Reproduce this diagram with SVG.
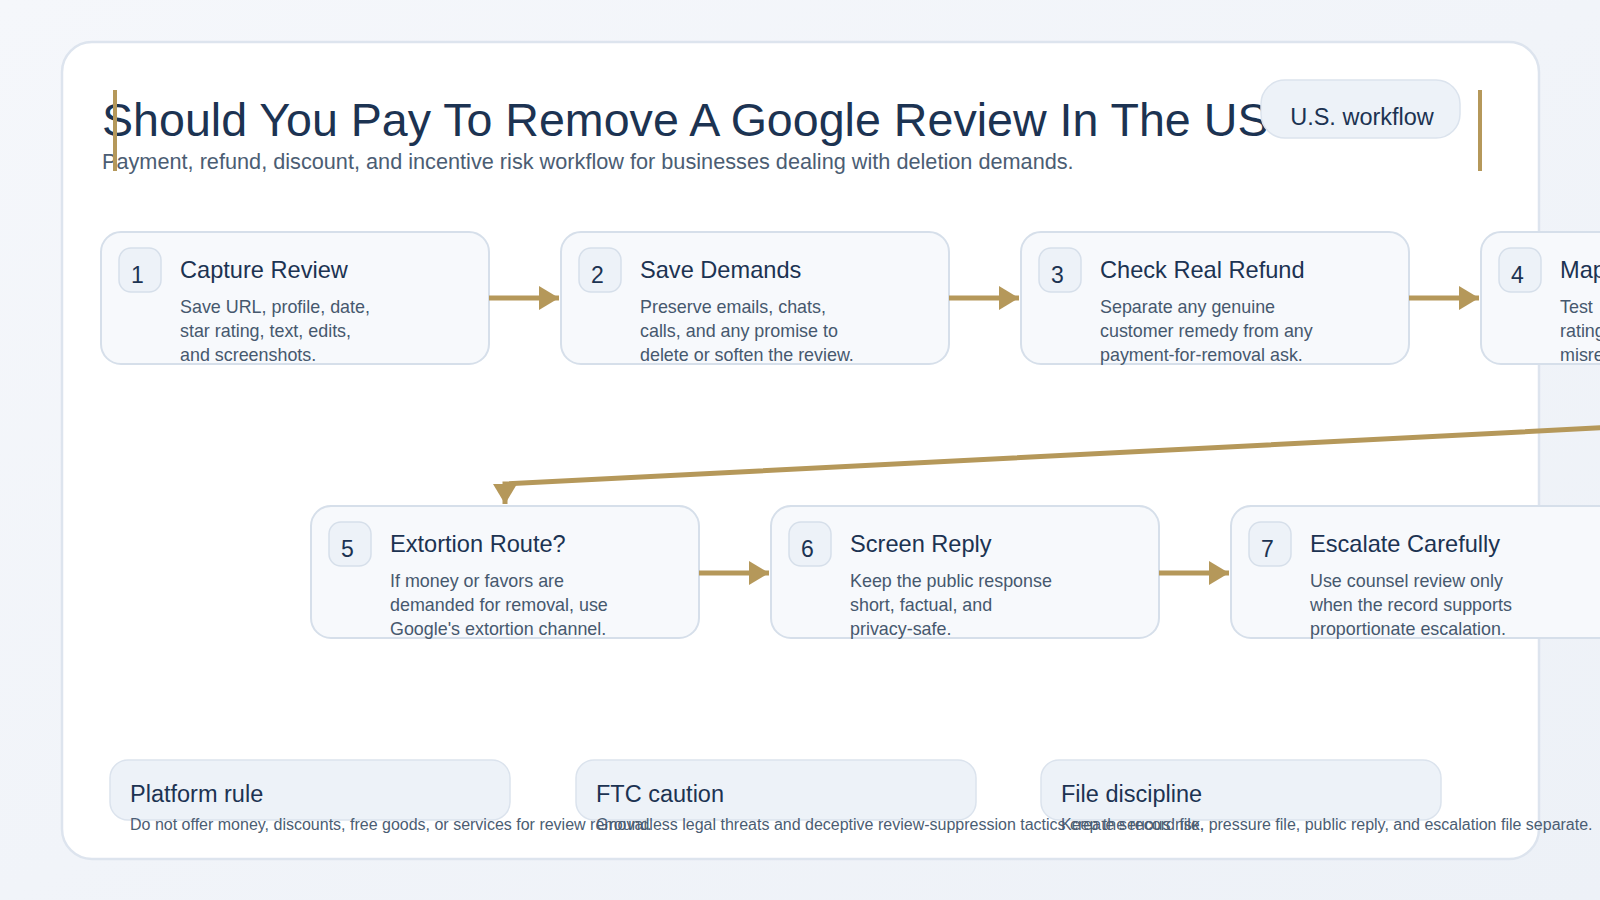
<svg xmlns="http://www.w3.org/2000/svg" width="1600" height="900" viewBox="0 0 1600 900">
<defs>
<linearGradient id="bg" x1="0" y1="0" x2="1" y2="1">
<stop offset="0" stop-color="#f5f7fb"/>
<stop offset="1" stop-color="#edf1f7"/>
</linearGradient>
<marker id="ah" markerUnits="userSpaceOnUse" markerWidth="22" markerHeight="26" refX="20" refY="12" orient="auto">
<path d="M0,0 L20,12 L0,24 z" fill="#b5985a"/>
</marker>
<style>
.ttl{font-family:"Liberation Sans",Arial,sans-serif;fill:#1c3352}
.sub{font-family:"Liberation Sans",Arial,sans-serif;fill:#4b5d73}
.node rect.box{fill:#f7f9fc;stroke:#d6dfea;stroke-width:2}
.node rect.num{fill:#edf2f8;stroke:#d6dfea;stroke-width:1.5}
.node .n{font-family:"Liberation Sans",Arial,sans-serif;font-size:23px;fill:#1c3352}
.node .h{font-family:"Liberation Sans",Arial,sans-serif;font-size:23.6px;fill:#1c3352}
.node .b{font-family:"Liberation Sans",Arial,sans-serif;font-size:17.9px;fill:#46586e}
.note rect{fill:#edf2f8;stroke:#dbe3ed;stroke-width:1.5}
.note .h{font-family:"Liberation Sans",Arial,sans-serif;font-size:23.5px;fill:#1c3352}
.note .b{font-family:"Liberation Sans",Arial,sans-serif;font-size:16px;fill:#4b5d73}
.conn{fill:none;stroke:#b5985a;stroke-width:5;marker-end:url(#ah)}
.bar{fill:#b5985a}
</style>
</defs>
<rect x="0" y="0" width="1600" height="900" fill="url(#bg)"/>
<rect x="62" y="42" width="1477" height="817" rx="30" fill="#ffffff" stroke="#dde4ee" stroke-width="2.5"/>

<g id="header">
<text class="ttl" x="102" y="136" font-size="46.6">Should You Pay To Remove A Google Review In The US</text>
<text class="sub" x="102" y="169" font-size="21.7">Payment, refund, discount, and incentive risk workflow for businesses dealing with deletion demands.</text>
<rect class="bar" x="113" y="90" width="4" height="81"/>
<rect class="bar" x="1478" y="90" width="4" height="81"/>
<rect x="1261" y="80" width="199" height="58" rx="24" fill="#edf2f8" stroke="#dbe3ed" stroke-width="1.5"/>
<text class="ttl" x="1362" y="125" font-size="23.5" text-anchor="middle" fill="#1f3350">U.S. workflow</text>
</g>

<g id="node1" class="node">
<rect class="box" x="101" y="232" width="388" height="132" rx="20"/>
<rect class="num" x="119" y="248" width="42" height="44" rx="12"/>
<text class="n" x="131" y="283">1</text>
<text class="h" x="180" y="278">Capture Review</text>
<text class="b" x="180" y="312.5">Save URL, profile, date,</text>
<text class="b" x="180" y="336.5">star rating, text, edits,</text>
<text class="b" x="180" y="360.5">and screenshots.</text>
</g>

<g id="node2" class="node">
<rect class="box" x="561" y="232" width="388" height="132" rx="20"/>
<rect class="num" x="579" y="248" width="42" height="44" rx="12"/>
<text class="n" x="591" y="283">2</text>
<text class="h" x="640" y="278">Save Demands</text>
<text class="b" x="640" y="312.5">Preserve emails, chats,</text>
<text class="b" x="640" y="336.5">calls, and any promise to</text>
<text class="b" x="640" y="360.5">delete or soften the review.</text>
</g>

<g id="node3" class="node">
<rect class="box" x="1021" y="232" width="388" height="132" rx="20"/>
<rect class="num" x="1039" y="248" width="42" height="44" rx="12"/>
<text class="n" x="1051" y="283">3</text>
<text class="h" x="1100" y="278">Check Real Refund</text>
<text class="b" x="1100" y="312.5">Separate any genuine</text>
<text class="b" x="1100" y="336.5">customer remedy from any</text>
<text class="b" x="1100" y="360.5">payment-for-removal ask.</text>
</g>

<g id="node4" class="node">
<rect class="box" x="1481" y="232" width="388" height="132" rx="20"/>
<rect class="num" x="1499" y="248" width="42" height="44" rx="12"/>
<text class="n" x="1511" y="283">4</text>
<text class="h" x="1560" y="278">Map</text>
<text class="b" x="1560" y="312.5">Test</text>
<text class="b" x="1560" y="336.5">rating</text>
<text class="b" x="1560" y="360.5">misre</text>
</g>

<g id="node5" class="node">
<rect class="box" x="311" y="506" width="388" height="132" rx="20"/>
<rect class="num" x="329" y="522" width="42" height="44" rx="12"/>
<text class="n" x="341" y="557">5</text>
<text class="h" x="390" y="552">Extortion Route?</text>
<text class="b" x="390" y="586.5">If money or favors are</text>
<text class="b" x="390" y="610.5">demanded for removal, use</text>
<text class="b" x="390" y="634.5">Google's extortion channel.</text>
</g>

<g id="node6" class="node">
<rect class="box" x="771" y="506" width="388" height="132" rx="20"/>
<rect class="num" x="789" y="522" width="42" height="44" rx="12"/>
<text class="n" x="801" y="557">6</text>
<text class="h" x="850" y="552">Screen Reply</text>
<text class="b" x="850" y="586.5">Keep the public response</text>
<text class="b" x="850" y="610.5">short, factual, and</text>
<text class="b" x="850" y="634.5">privacy-safe.</text>
</g>

<g id="node7" class="node">
<rect class="box" x="1231" y="506" width="388" height="132" rx="20"/>
<rect class="num" x="1249" y="522" width="42" height="44" rx="12"/>
<text class="n" x="1261" y="557">7</text>
<text class="h" x="1310" y="552">Escalate Carefully</text>
<text class="b" x="1310" y="586.5">Use counsel review only</text>
<text class="b" x="1310" y="610.5">when the record supports</text>
<text class="b" x="1310" y="634.5">proportionate escalation.</text>
</g>

<g id="connectors">
<path class="conn" d="M489 298 L559 298"/>
<path class="conn" d="M949 298 L1019 298"/>
<path class="conn" d="M1409 298 L1479 298"/>
<path class="conn" d="M1675 364 L1675 424 L505 484 L505 504"/>
<path class="conn" d="M699 573 L769 573"/>
<path class="conn" d="M1159 573 L1229 573"/>
</g>

<g id="note1" class="note">
<rect x="110" y="760" width="400" height="60" rx="18"/>
<text class="h" x="130" y="802">Platform rule</text>
<text class="b" x="130" y="830">Do not offer money, discounts, free goods, or services for review removal.</text>
</g>
<g id="note2" class="note">
<rect x="576" y="760" width="400" height="60" rx="18"/>
<text class="h" x="596" y="802">FTC caution</text>
<text class="b" x="596" y="830">Groundless legal threats and deceptive review-suppression tactics create serious risk.</text>
</g>
<g id="note3" class="note">
<rect x="1041" y="760" width="400" height="60" rx="18"/>
<text class="h" x="1061" y="802">File discipline</text>
<text class="b" x="1061" y="830">Keep the record file, pressure file, public reply, and escalation file separate.</text>
</g>
</svg>
